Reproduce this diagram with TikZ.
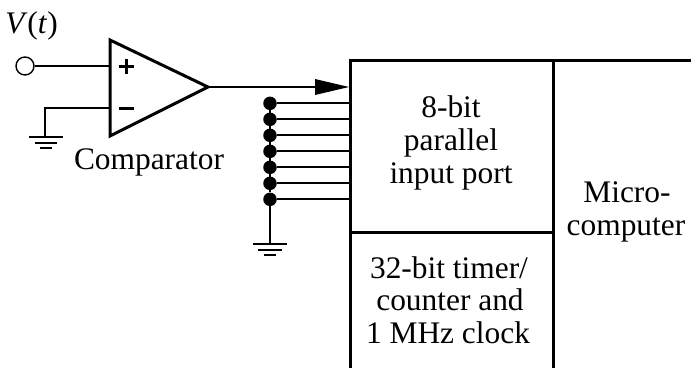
\documentclass[tikz,border=0pt]{standalone}
\usepackage{fontspec}
\setmainfont{Liberation Serif}
\usetikzlibrary{arrows.meta}
\tikzset{
  lbl/.style={inner sep=0pt,anchor=base,font=\fontsize{31.4}{34}\selectfont},
  thick wire/.style={line width=3pt},
  wire/.style={line width=1.7pt},
  dotn/.style={circle,fill=black,inner sep=0pt,minimum size=13.5pt},
  opin/.style={circle,draw=black,line width=1.4pt,fill=white,inner sep=0pt,minimum size=18pt},
  signs/.style={line width=3pt}
}
\begin{document}
\begin{tikzpicture}[x=1pt,y=-1pt]
\useasboundingbox (0,0) rectangle (691,368);
% block outline
\coordinate (tl) at (350,60); \coordinate (tr) at (691,60);
\coordinate (tm) at (553,60);
\coordinate (bl) at (350,368); \coordinate (bm) at (553,368);
\coordinate (dl) at (350,232); \coordinate (dr) at (553,232);
\draw[thick wire] (bl) -- (tl) -- (tr);
\draw[thick wire] (tm) -- (bm);
\draw[thick wire] (dl) -- (dr);
% comparator
\coordinate (ta) at (110,40); \coordinate (tb) at (110,136); \coordinate (tc) at (208,87);
\draw[thick wire,line join=miter] (ta) -- (tc) -- (tb) -- cycle;
\coordinate (pin) at (110,66); \coordinate (nin) at (110,108);
\node[opin] (vin) at (25,66) {};
\draw[wire] (vin) -- (pin);
\coordinate (g1) at (45,137); \coordinate (n1) at (45,108);
\draw[wire] (nin) -- (n1) -- (g1);
\draw[wire] (29,137) -- (63,137) (35,143) -- (57,143) (40,148) -- (52,148);
\draw[signs] (119,66.5) -- (134,66.5) (126.5,59) -- (126.5,74);
\draw[signs] (119,108.5) -- (134,108.5);
% output
\coordinate (pa) at (350,87);
\draw[wire] (tc) -- (318,87);
\fill (315,79) -- (349,87) -- (315,95) -- cycle;
% pull-down dots
\foreach \i/\y in {1/103.3,2/119.3,3/135.3,4/151.3,5/167.3,6/183.3,7/199.3}{
  \node[dotn] (d\i) at (270,\y) {};
  \coordinate (p\i) at (350,\y);
  \draw[wire] (d\i) -- (p\i);
}
\coordinate (g2) at (270,244);
\draw[wire] (d1) -- (d7) -- (g2);
\draw[wire] (253,244) -- (287,244) (258,250) -- (282,250) (264,255) -- (276,255);
% text
\node[lbl] (v) at (31.5,33) {\textit{V}(\textit{t})};
\node[lbl] (cmp) at (149,169) {Comparator};
\node[lbl] (a1) at (451,117) {8-bit};
\node[lbl] (a2) at (451,150) {parallel};
\node[lbl] (a3) at (451,183) {input port};
\node[lbl] (b1) at (449,278) {32-bit timer/};
\node[lbl] (b2) at (450,310) {counter and};
\node[lbl] (b3) at (448,343) {1 MHz clock};
\node[lbl] (m1) at (627,202) {Micro-};
\node[lbl] (m2) at (626,235) {computer};
\end{tikzpicture}
\end{document}
